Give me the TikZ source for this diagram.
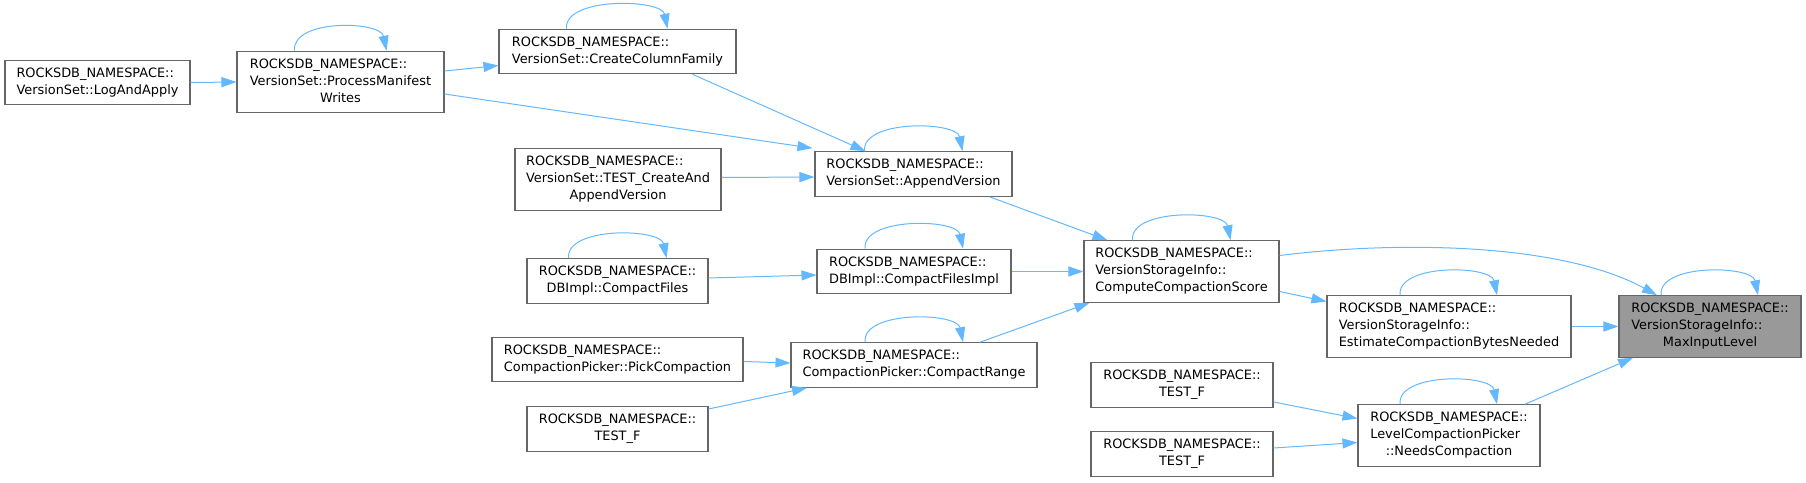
\documentclass[tikz,border=0pt]{standalone}
\usepackage{fontspec}
\setmainfont{DejaVu Sans}
\usepackage{xcolor}
\usetikzlibrary{arrows.meta}

\definecolor{edgeblue}{HTML}{63B8FF}
\definecolor{boxgray}{HTML}{666666}
\definecolor{hlgray}{HTML}{999999}

% first lines to the left, last line centred
\newcommand{\fnlabel}[2]{\begin{tabular}{@{}l@{}}#1\\\multicolumn{1}{@{}c@{}}{#2}\end{tabular}}

\begin{document}
\begin{tikzpicture}[x=1pt,y=-1pt,
  fn/.style={draw=boxgray, line width=1.1pt, fill=white, inner xsep=0pt, inner ysep=5.25pt,
    font=\fontsize{12.9}{17}\selectfont},
  hl/.style={fn, fill=hlgray},
  call/.style={draw=edgeblue, line width=1pt, -{Triangle[length=15pt,width=10pt]}}]
                \useasboundingbox (0,0) rectangle (1806,482);
                % callers
                \node[fn, minimum width=185pt] (logapply) at (97.5,82.5) {\fnlabel{ROCKSDB\_NAMESPACE::}{VersionSet::LogAndApply}};
                \node[fn, minimum width=207pt] (pmw) at (340.5,82) {\fnlabel{ROCKSDB\_NAMESPACE::\\VersionSet::ProcessManifest}{Writes}};
                \node[fn, minimum width=237pt] (ccf) at (617.5,51.5) {\fnlabel{ROCKSDB\_NAMESPACE::}{VersionSet::CreateColumnFamily}};
                \node[fn, minimum width=206pt] (tcav) at (618,179.5) {\fnlabel{ROCKSDB\_NAMESPACE::\\VersionSet::TEST\_CreateAnd}{AppendVersion}};
                \node[fn, minimum width=197pt] (appv) at (913.5,174) {\fnlabel{ROCKSDB\_NAMESPACE::}{VersionSet::AppendVersion}};
                \node[fn, minimum width=181pt] (cfiles) at (617.5,281) {\fnlabel{ROCKSDB\_NAMESPACE::}{DBImpl::CompactFiles}};
                \node[fn, minimum width=194pt] (cfimpl) at (914,271.5) {\fnlabel{ROCKSDB\_NAMESPACE::}{DBImpl::CompactFilesImpl}};
                \node[fn, minimum width=251pt] (pickc) at (617.5,359.5) {\fnlabel{ROCKSDB\_NAMESPACE::}{CompactionPicker::PickCompaction}};
                \node[fn, minimum width=246pt] (crange) at (914,365) {\fnlabel{ROCKSDB\_NAMESPACE::}{CompactionPicker::CompactRange}};
                \node[fn, minimum width=181pt] (testfa) at (617.5,429) {\fnlabel{ROCKSDB\_NAMESPACE::}{TEST\_F}};
                \node[fn, minimum width=195pt] (ccs) at (1181.5,271.5) {\fnlabel{ROCKSDB\_NAMESPACE::\\VersionStorageInfo::}{ComputeCompactionScore}};
                \node[fn, minimum width=182pt] (testfb) at (1182,385) {\fnlabel{ROCKSDB\_NAMESPACE::}{TEST\_F}};
                \node[fn, minimum width=182pt] (testfc) at (1182,454) {\fnlabel{ROCKSDB\_NAMESPACE::}{TEST\_F}};
                \node[fn, minimum width=244pt] (ecbn) at (1449,326.5) {\fnlabel{ROCKSDB\_NAMESPACE::\\VersionStorageInfo::}{EstimateCompactionBytesNeeded}};
                \node[fn, minimum width=182pt] (nc) at (1449,435.5) {\fnlabel{ROCKSDB\_NAMESPACE::\\LevelCompactionPicker}{::NeedsCompaction}};
                % the function itself
                \node[hl, minimum width=182pt] (mil) at (1710,326.5) {\fnlabel{ROCKSDB\_NAMESPACE::\\VersionStorageInfo::}{MaxInputLevel}};

                % calls
                \draw[call] (logapply.east) -- (pmw.west);
                \draw[call] ([yshift=11pt]pmw.east) -- ([yshift=-14pt]ccf.west);
                \draw[call] ([yshift=-12pt]pmw.east) -- ([xshift=-2pt,yshift=3pt]appv.north west);
                \draw[call] ([xshift=75pt]ccf.south) -- ([xshift=-48pt]appv.north);
                \draw[call] ([yshift=2pt]tcav.east) -- ([yshift=-3pt]appv.west);
                \draw[call] ([xshift=76pt]appv.south) -- ([xshift=-74pt]ccs.north);
                \draw[call] ([yshift=3pt]cfiles.east) -- ([yshift=-3.5pt]cfimpl.west);
                \draw[call] (cfimpl.east) -- (ccs.west);
                \draw[call] ([yshift=-2pt]pickc.east) -- ([yshift=2pt]crange.west);
                \draw[call] ([yshift=20pt]testfa.east) -- ([xshift=-107pt]crange.south);
                \draw[call] ([xshift=66pt]crange.north) -- ([xshift=-92pt]ccs.south);
                \draw[call] ([yshift=-20pt]ccs.east) -- ([yshift=25pt]ecbn.west);
                \draw[call] ([yshift=16pt]ccs.east) .. controls +(120,-15) and +(-95,-52) .. ([xshift=-53pt]mil.north);
                \draw[call] (ecbn.east) -- (mil.west);
                \draw[call] ([yshift=-17pt]testfb.east) -- ([yshift=17pt]nc.west);
                \draw[call] ([yshift=6pt]testfc.east) -- ([yshift=-7pt]nc.west);
                \draw[call] ([xshift=76pt]nc.north) -- ([xshift=-77pt]mil.south);

                % recursive calls
                \draw[call] ([xshift=-46pt]pmw.north) .. controls +(-3,-32) and +(-6,-30) .. ([xshift=46pt]pmw.north);
                \draw[call] ([xshift=-51pt]ccf.north) .. controls +(-3,-32) and +(-6,-30) .. ([xshift=50pt]ccf.north);
                \draw[call] ([xshift=-49pt]appv.north) .. controls +(-3,-32) and +(-6,-30) .. ([xshift=49pt]appv.north);
                \draw[call] ([xshift=-49pt]cfiles.north) .. controls +(-3,-32) and +(-6,-30) .. ([xshift=49pt]cfiles.north);
                \draw[call] ([xshift=-49pt]cfimpl.north) .. controls +(-3,-32) and +(-6,-30) .. ([xshift=49pt]cfimpl.north);
                \draw[call] ([xshift=-49pt]crange.north) .. controls +(-3,-32) and +(-6,-30) .. ([xshift=49pt]crange.north);
                \draw[call] ([xshift=-49pt]ccs.north) .. controls +(-3,-32) and +(-6,-30) .. ([xshift=49pt]ccs.north);
                \draw[call] ([xshift=-49pt]ecbn.north) .. controls +(-3,-32) and +(-6,-30) .. ([xshift=48pt]ecbn.north);
                \draw[call] ([xshift=-49pt]nc.north) .. controls +(-3,-32) and +(-6,-30) .. ([xshift=48pt]nc.north);
                \draw[call] ([xshift=-49pt]mil.north) .. controls +(-3,-32) and +(-6,-30) .. ([xshift=48pt]mil.north);
            \end{tikzpicture}
\end{document}
